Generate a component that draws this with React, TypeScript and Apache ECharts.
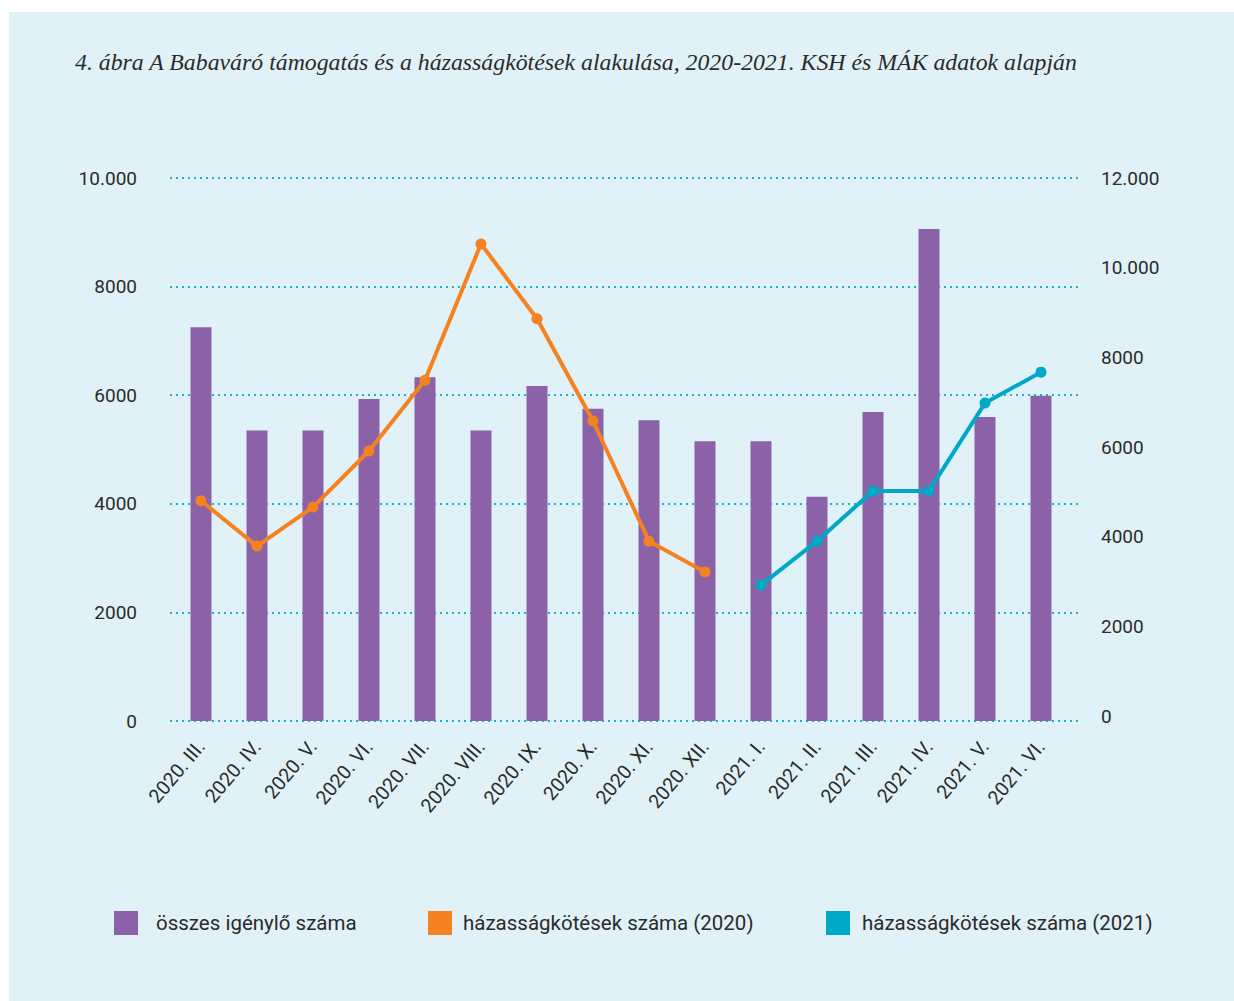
import React, { useEffect, useRef } from "react";
import * as echarts from "echarts";

const categories = [
  "2020. III.", "2020. IV.", "2020. V.", "2020. VI.", "2020. VII.", "2020. VIII.",
  "2020. IX.", "2020. X.", "2020. XI.", "2020. XII.", "2021. I.", "2021. II.",
  "2021. III.", "2021. IV.", "2021. V.", "2021. VI.",
];
const applicants = [7250, 5350, 5350, 5930, 6330, 5350, 6170, 5750, 5540, 5150, 5150, 4130, 5690, 9060, 5600, 5990];
const marriages2020 = [4800, 3790, 4660, 5910, 7490, 10530, 8860, 6580, 3900, 3210, null, null, null, null, null, null];
const marriages2021 = [null, null, null, null, null, null, null, null, null, null, 2920, 3900, 5020, 5020, 6980, 7670];
const seriesNames = ["összes igénylő száma", "házasságkötések száma (2020)", "házasságkötések száma (2021)"];
const titleText = "4. ábra A Babaváró támogatás és a házasságkötések alakulása, 2020-2021. KSH és MÁK adatok alapján";

const PURPLE = "#8b61a8";
const ORANGE = "#f58220";
const TEAL = "#00a8c8";
const GRID_COLOR = "#17b3d6";
const TEXT = "#2b2b2b";
const FONT = "Roboto";

const fmt = (v: number) => (v >= 10000 ? (v / 1000).toFixed(0) + ".000" : String(v));

export default function App() {
  const ref = useRef<HTMLDivElement>(null);
  useEffect(() => {
    if (!ref.current) return;
    const chart = echarts.init(ref.current, undefined, { renderer: "svg" });
    const legendBase = {
      itemWidth: 24,
      itemHeight: 24,
      itemGap: 0,
      padding: 0,
      top: 911,
      icon: "rect",
    };
    const legendText = (gap: number) => ({
      fontFamily: FONT,
      fontSize: 20.5,
      color: TEXT,
      padding: [0, 0, 0, gap],
    });
    chart.setOption({
      animation: false,
      backgroundColor: "#ffffff",
      graphic: [
        {
          type: "rect",
          left: 9,
          top: 12,
          shape: { width: 1225, height: 989 },
          style: { fill: "#e0f2f7" },
          z: -10,
        },
        {
          type: "text",
          left: 75,
          top: 50,
          style: {
            text: titleText,
            font: "italic 23.8px 'Liberation Serif'",
            fill: TEXT,
          },
        },
      ],
      legend: [
        { ...legendBase, left: 114, data: [seriesNames[0]], textStyle: legendText(13) },
        { ...legendBase, left: 428, data: [seriesNames[1]], textStyle: legendText(6) },
        { ...legendBase, left: 826, data: [seriesNames[2]], textStyle: legendText(7) },
      ],
      grid: [
        { left: 173, width: 896, top: 178, height: 543 },
        { left: 173, width: 896, top: 178, height: 538 },
        { left: 170, width: 910, top: 178, height: 543 },
      ],
      xAxis: [
        {
          type: "category",
          gridIndex: 0,
          data: categories,
          axisLine: { show: false },
          axisTick: { show: false },
          axisLabel: {
            rotate: 50,
            margin: 22,
            interval: 0,
            fontFamily: FONT,
            fontSize: 19.5,
            color: TEXT,
          },
        },
        { type: "category", gridIndex: 1, data: categories, show: false },
        { type: "value", gridIndex: 2, show: false, min: 0, max: 1 },
      ],
      yAxis: [
        {
          type: "value",
          gridIndex: 0,
          min: 0,
          max: 10000,
          interval: 2000,
          axisLine: { show: false },
          axisTick: { show: false },
          splitLine: { show: false },
          axisLabel: { formatter: fmt, margin: 36, fontFamily: FONT, fontSize: 19, color: TEXT },
        },
        {
          type: "value",
          gridIndex: 1,
          position: "right",
          min: 0,
          max: 12000,
          interval: 2000,
          axisLine: { show: false },
          axisTick: { show: false },
          splitLine: { show: false },
          axisLabel: { formatter: fmt, margin: 32, fontFamily: FONT, fontSize: 19, color: TEXT },
        },
        {
          type: "value",
          gridIndex: 2,
          min: 0,
          max: 10000,
          interval: 2000,
          axisLine: { show: false },
          axisTick: { show: false },
          axisLabel: { show: false },
          splitLine: { show: true, lineStyle: { color: GRID_COLOR, width: 2, type: [2, 4] } },
        },
      ],
      series: [
        {
          name: seriesNames[0],
          type: "bar",
          xAxisIndex: 0,
          yAxisIndex: 0,
          data: applicants,
          barWidth: 21,
          itemStyle: { color: PURPLE },
        },
        {
          name: seriesNames[1],
          type: "line",
          xAxisIndex: 1,
          yAxisIndex: 1,
          data: marriages2020,
          symbol: "circle",
          symbolSize: 11,
          lineStyle: { color: ORANGE, width: 4 },
          itemStyle: { color: ORANGE },
        },
        {
          name: seriesNames[2],
          type: "line",
          xAxisIndex: 1,
          yAxisIndex: 1,
          data: marriages2021,
          symbol: "circle",
          symbolSize: 11,
          lineStyle: { color: TEAL, width: 4 },
          itemStyle: { color: TEAL },
        },
      ],
    });
    return () => chart.dispose();
  }, []);
  return (
    <div
      ref={ref}
      style={{ position: "absolute", left: 0, top: 0, width: 1234, height: 1001 }}
    />
  );
}
